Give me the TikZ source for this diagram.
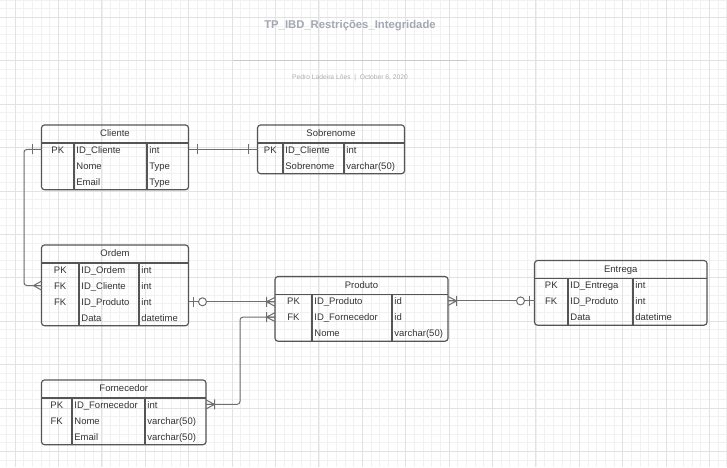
\documentclass[tikz,border=0pt]{standalone}
\usepackage{fontspec}
\setmainfont{Liberation Sans}
\usetikzlibrary{calc}
\definecolor{gridmin}{HTML}{F1F1F1}
\definecolor{gridmaj}{HTML}{E2E2E2}
\definecolor{tblc}{HTML}{555555}
\definecolor{txtc}{HTML}{333333}
\definecolor{connc}{HTML}{6E6E6E}
\definecolor{titlec}{HTML}{A3A8B2}
\definecolor{rulec}{HTML}{C9CAD1}
\definecolor{subc}{HTML}{ADADAD}
\tikzset{
  tbl/.style={draw=tblc, line width=1.15pt, rounded corners=3pt, inner sep=0pt, outer sep=0pt, anchor=north west},
  tblline/.style={draw=tblc, line width=1.1pt},
  celltext/.style={text=txtc, font=\fontsize{9.5}{11}\selectfont, inner sep=0pt},
  conn/.style={draw=connc, line width=1pt},
  minorgrid/.style={draw=gridmin, line width=0.6pt},
  majorgrid/.style={draw=gridmaj, line width=0.8pt},
  pics/crowfoot/.style={code={\draw[conn] (0,-4.5)--(8,0)--(0,4.5) (0,0)--(8,0);}},
  pics/crowbar/.style={code={\draw[conn] (0,-4.5)--(8.5,0)--(0,4.5) (0,0)--(8.5,0) (8.5,-5)--(8.5,5);}},
  pics/onebar/.style={code={\draw[conn] (9,-5)--(9,5);}},
  pics/zeroone/.style={code={\draw[conn] (5,-5)--(5,5); \draw[conn,fill=white] (14,0) circle (4);}},
}
% #1 name #2 title #3 x1 #4 top #5 x2 #6 col1 #7 col2 #8 nrows #9 rows
\newcommand\ertable[9]{%
  \pgfmathsetmacro\erW{#5-#3}%
  \pgfmathsetmacro\erSep{#4+18}%
  \pgfmathsetmacro\erBot{\erSep+16*#8-1.3}%
  \pgfmathsetmacro\erH{\erBot-#4}%
  \node[tbl, minimum width=\erW pt, minimum height=\erH pt] (#1) at (#3,#4) {};
  \draw[tblline] (#3,\erSep) -- (#5,\erSep) (#6,\erSep) -- (#6,\erBot) (#7,\erSep) -- (#7,\erBot);
  \node[celltext, anchor=base] (#1-t) at ({(#3+#5)/2},{#4+11.6}) {#2};
  \foreach \i/\k/\n/\t in {#9} {
    \pgfmathsetmacro\erB{\erSep+10+16.2*(\i-1)}
    \coordinate (#1-\i) at (#3,{\erB-3.6});
    \node[celltext, anchor=base] (#1-k\i) at ({(#3+#6)/2},\erB) {\k};
    \node[celltext, anchor=base west] (#1-n\i) at ({#6+2.2},\erB) {\n};
    \node[celltext, anchor=base west] (#1-y\i) at ({#7+2.2},\erB) {\t};
  }
}
\begin{document}
\begin{tikzpicture}[x=1pt,y=-1pt]
\useasboundingbox (0,0) rectangle (727,467);
\fill[white] (0,0) rectangle (727,467);
% grid
\foreach \i in {-2,...,84} \draw[minorgrid] ({15+8.68*\i},0) -- ({15+8.68*\i},467);
\foreach \i in {-2,...,53} \draw[minorgrid] (0,{17.3+8.68*\i}) -- (727,{17.3+8.68*\i});
\foreach \i in {0,...,16} \draw[majorgrid] ({15+43.4*\i},0) -- ({15+43.4*\i},467);
\foreach \i in {0,...,10} \draw[majorgrid] (0,{17.3+43.4*\i}) -- (727,{17.3+43.4*\i});
% title block
\node[text=titlec, font=\bfseries\fontsize{11.3}{13}\selectfont, inner sep=0pt] (title) at (350,25.5) {TP\_IBD\_Restrições\_Integridade};
\coordinate (ruleL) at (233,60.5);
\coordinate (ruleR) at (467,60.5);
\draw[draw=rulec, line width=1.4pt] (ruleL) -- (ruleR);
\node[text=subc, font=\fontsize{6.7}{8}\selectfont, inner sep=0pt] (subtitle) at (350,77.5) {Pedro Ladeira Lôes \ \textbar\ \ October 6, 2020};
% tables
\ertable{cliente}{Cliente}{41.5}{125}{188.5}{74}{147}{3}{1/PK/ID\_Cliente/int, 2/{}/Nome/Type, 3/{}/Email/Type}
\ertable{sobrenome}{Sobrenome}{257.5}{125}{404.5}{283}{344}{2}{1/PK/ID\_Cliente/int, 2/{}/Sobrenome/varchar(50)}
\ertable{ordem}{Ordem}{41.5}{245}{188.5}{79}{139}{4}{1/PK/ID\_Ordem/int, 2/FK/ID\_Cliente/int, 3/FK/ID\_Produto/int, 4/{}/Data/datetime}
\ertable{produto}{Produto}{275}{276.5}{448}{312}{392}{3}{1/PK/ID\_Produto/id, 2/FK/ID\_Fornecedor/id, 3/{}/Nome/varchar(50)}
\ertable{entrega}{Entrega}{534.5}{260.5}{707}{568}{633}{3}{1/PK/ID\_Entrega/int, 2/FK/ID\_Produto/int, 3/{}/Data/datetime}
\ertable{fornecedor}{Fornecedor}{41.5}{380}{206}{72}{145}{3}{1/PK/ID\_Fornecedor/int, 2/FK/Nome/varchar(50), 3/{}/Email/varchar(50)}
% connectors
\draw[conn] (cliente.east |- cliente-1) -- (sobrenome.west |- cliente-1);
\pic at (cliente.east |- cliente-1) {onebar};
\pic[rotate=180] at (sobrenome.west |- cliente-1) {onebar};

\coordinate (cobend) at (24,0);
\draw[conn, rounded corners=3pt] (cliente.west |- cliente-1) -| (cobend |- ordem-2) -- (ordem.west |- ordem-2);
\pic[rotate=180] at (cliente.west |- cliente-1) {onebar};
\pic[rotate=180] at (ordem.west |- ordem-2) {crowfoot};

\draw[conn] (ordem.east |- ordem-3) -- (produto.west |- ordem-3);
\pic at (ordem.east |- ordem-3) {zeroone};
\pic[rotate=180] at (produto.west |- ordem-3) {crowbar};

\coordinate (fpbend) at (240,0);
\draw[conn, rounded corners=3pt] (fornecedor.east |- fornecedor-1) -| (fpbend |- produto-2) -- (produto.west |- produto-2);
\pic at (fornecedor.east |- fornecedor-1) {crowbar};
\pic[rotate=180] at (produto.west |- produto-2) {crowbar};

\draw[conn] (produto.east |- produto-1) -- (entrega.west |- produto-1);
\pic at (produto.east |- produto-1) {crowbar};
\pic[rotate=180] at (entrega.west |- produto-1) {zeroone};
\end{tikzpicture}
\end{document}
